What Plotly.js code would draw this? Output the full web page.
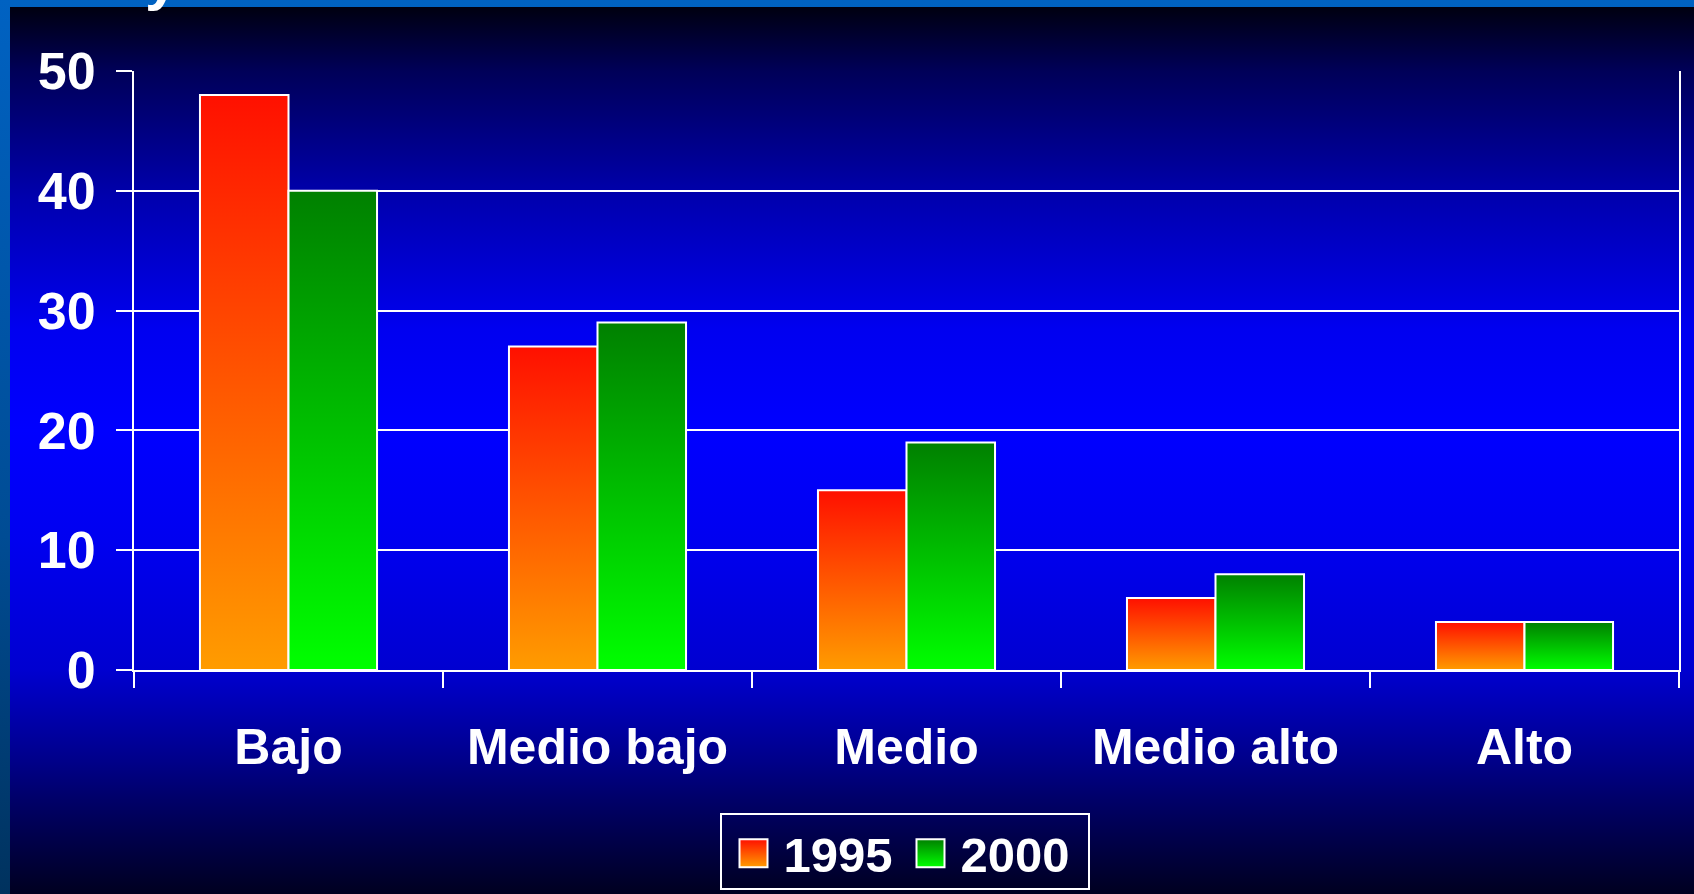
<!DOCTYPE html>
<html>
<head>
<meta charset="utf-8">
<script src="https://cdn.plot.ly/plotly-3.0.1.min.js"></script>
<style>
  html, body { margin:0; padding:0; width:1694px; height:894px; overflow:hidden; }
  body { background: linear-gradient(to bottom, #0062c2 0%, #004c94 60%, #00325e 100%); position:relative; }
  #panel {
    position:absolute; left:10px; top:7px; right:0; bottom:0;
    background: linear-gradient(to bottom,
      #000010 0%, #000058 7.2%, #0000b0 21.8%, #0000f0 36.4%, #0000ff 47.7%,
      #0000f0 60.1%, #0000d0 74.7%, #00008a 84.9%, #000068 89.4%, #000020 100%);
  }
  #chart { position:absolute; left:0; top:0; width:1694px; height:894px; }
</style>
</head>
<body>
<div id="panel"></div>
<div id="chart"></div>
<script>
// ---- data ----
const categories = ["Bajo", "Medio bajo", "Medio", "Medio alto", "Alto"];
const values1995 = [48, 27, 15, 6, 4];
const values2000 = [40, 29, 19, 8, 4];
const seriesNames = ["1995", "2000"];
const yTickValues = [0, 10, 20, 30, 40, 50];
const titleFragment = "y";

// ---- styles ----
const gradients = [
  { id: "grad1995", top: "#ff1000", bottom: "#ff9c00" },
  { id: "grad2000", top: "#008000", bottom: "#00ff00" }
];
const fontFamily = "'Liberation Sans', Arial, sans-serif";

const traces = [
  { type: "bar", name: seriesNames[0], x: categories, y: values1995,
    marker: { color: gradients[0].bottom, line: { color: "#ffffff", width: 2 } } },
  { type: "bar", name: seriesNames[1], x: categories, y: values2000,
    marker: { color: gradients[1].bottom, line: { color: "#ffffff", width: 2 } } }
];

const layout = {
  width: 1694, height: 894,
  margin: { l: 134, r: 15, t: 71, b: 224, pad: 0, autoexpand: false },
  paper_bgcolor: "rgba(0,0,0,0)",
  plot_bgcolor: "rgba(0,0,0,0)",
  font: { family: fontFamily, color: "#ffffff", size: 50, weight: "bold" },
  barmode: "group",
  bargap: 0.427,
  bargroupgap: 0,
  showlegend: true,
  xaxis: {
    type: "category",
    tickson: "boundaries",
    ticks: "outside", ticklen: 16, tickwidth: 2, tickcolor: "#ffffff",
    showline: true, linecolor: "#ffffff", linewidth: 2,
    showgrid: false, zeroline: false,
    tickfont: { family: fontFamily, size: 50, color: "#ffffff", weight: "bold" },
    ticklabelstandoff: 32
  },
  yaxis: {
    range: [0, 50], tickvals: yTickValues,
    ticks: "outside", ticklen: 16, tickwidth: 2, tickcolor: "#ffffff",
    showline: true, linecolor: "#ffffff", linewidth: 2, mirror: true,
    showgrid: true, gridcolor: "#ffffff", gridwidth: 2,
    zeroline: false,
    tickfont: { family: fontFamily, size: 52, color: "#ffffff", weight: "bold" },
    ticklabelstandoff: 10
  },
  legend: {
    orientation: "h",
    x: 0.5, xanchor: "center",
    y: -0.2387, yanchor: "top",
    bgcolor: "rgba(0,0,0,0)",
    bordercolor: "#ffffff", borderwidth: 2,
    itemwidth: 50,
    entrywidth: 112,
    font: { family: fontFamily, size: 49, color: "#ffffff", weight: "bold" }
  },
  annotations: [{
    text: titleFragment, xref: "paper", yref: "paper",
    x: 0.006, y: 1.095, xanchor: "left", yanchor: "bottom",
    showarrow: false,
    font: { family: fontFamily, size: 60, color: "#ffffff", weight: "bold" }
  }]
};

function applyGradients(gd) {
  const NS = "http://www.w3.org/2000/svg";
  const svg = gd.querySelector(".main-svg");
  let defs = svg.querySelector("defs");
  if (!defs) { defs = document.createElementNS(NS, "defs"); svg.insertBefore(defs, svg.firstChild); }
  gradients.forEach(g => {
    const lg = document.createElementNS(NS, "linearGradient");
    lg.setAttribute("id", g.id);
    lg.setAttribute("x1", "0"); lg.setAttribute("y1", "0");
    lg.setAttribute("x2", "0"); lg.setAttribute("y2", "1");
    const s1 = document.createElementNS(NS, "stop");
    s1.setAttribute("offset", "0"); s1.setAttribute("stop-color", g.top);
    const s2 = document.createElementNS(NS, "stop");
    s2.setAttribute("offset", "1"); s2.setAttribute("stop-color", g.bottom);
    lg.appendChild(s1); lg.appendChild(s2);
    defs.appendChild(lg);
  });
  gd.querySelectorAll(".barlayer .trace").forEach((tr, i) => {
    tr.querySelectorAll("path").forEach(p => { p.style.fill = "url(#" + gradients[i].id + ")"; });
  });
  gd.querySelectorAll(".legend .traces").forEach((tr, i) => {
    tr.querySelectorAll(".legendpoints path").forEach(p => {
      p.setAttribute("d", "M14,14H-14V-14H14Z");
      p.style.fill = "url(#" + gradients[i].id + ")";
      p.style.stroke = "#ffffff";
      p.style.strokeWidth = "2px";
    });
  });
  // fine-tune legend frame to the reference's padding
  const leg = gd.querySelector(".legend");
  if (leg) {
    const m = /translate\(([-\d.]+),\s*([-\d.]+)\)/.exec(leg.getAttribute("transform") || "");
    if (m) leg.setAttribute("transform", "translate(" + (parseFloat(m[1]) - 6) + "," + m[2] + ")");
    const bg = leg.querySelector("rect.bg");
    if (bg) {
      bg.setAttribute("x", parseFloat(bg.getAttribute("x") || 0) - 2);
      bg.setAttribute("width", parseFloat(bg.getAttribute("width")) + 12);
      bg.setAttribute("height", parseFloat(bg.getAttribute("height")) - 4);
    }
  }
}

Plotly.newPlot("chart", traces, layout, { displayModeBar: false, staticPlot: true })
  .then(applyGradients);
</script>
</body>
</html>
